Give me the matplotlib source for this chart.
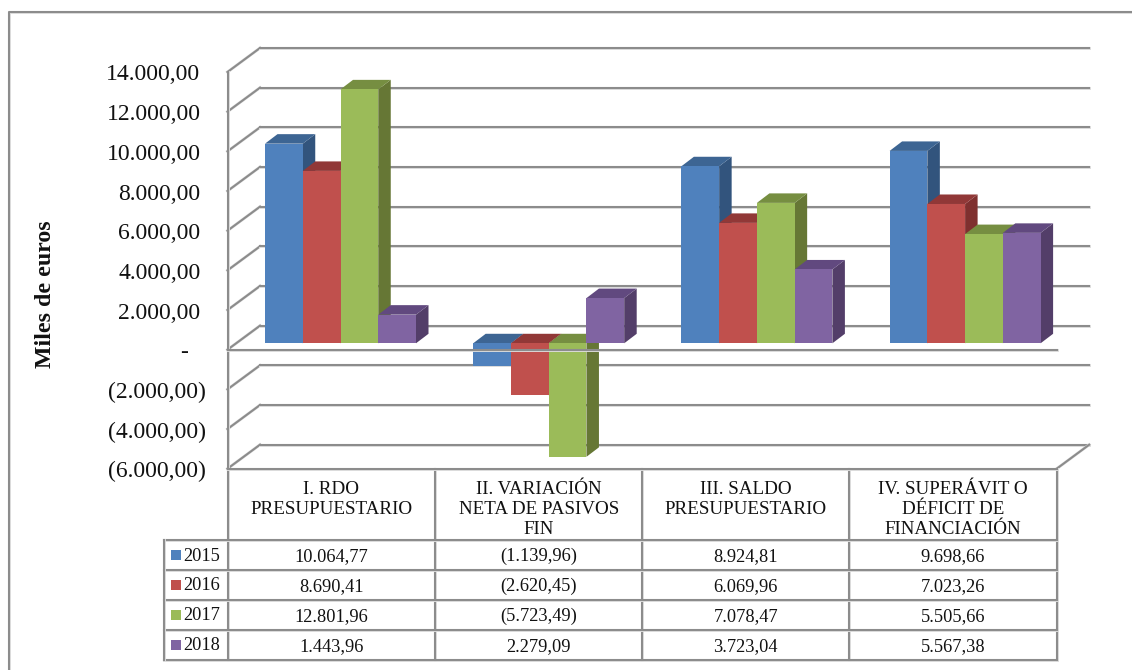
"""Gráfico de barras 3D simulado con tabla de datos: resultado presupuestario 2015-2018."""

import matplotlib

matplotlib.use("Agg")
import matplotlib.patheffects as path_effects
import matplotlib.pyplot as plt
from matplotlib.patches import Rectangle

plt.rcParams["font.family"] = ["Liberation Serif", "DejaVu Serif"]

CATEGORIES = [
    "I. RDO\nPRESUPUESTARIO",
    "II. VARIACIÓN\nNETA DE PASIVOS\nFIN",
    "III. SALDO\nPRESUPUESTARIO",
    "IV. SUPERÁVIT O\nDÉFICIT DE\nFINANCIACIÓN",
]
YEARS = ["2015", "2016", "2017", "2018"]
VALUES_2015 = [10064.77, -1139.96, 8924.81, 9698.66]
VALUES_2016 = [8690.41, -2620.45, 6069.96, 7023.26]
VALUES_2017 = [12801.96, -5723.49, 7078.47, 5505.66]
VALUES_2018 = [1443.96, 2279.09, 3723.04, 5567.38]
SERIES = [VALUES_2015, VALUES_2016, VALUES_2017, VALUES_2018]
Y_TICKS = [14000, 12000, 10000, 8000, 6000, 4000, 2000, 0, -2000, -4000, -6000]

FRONT_COLORS = ["#4F81BD", "#C0504D", "#9BBB59", "#8064A2"]
TOP_COLORS = ["#3D6593", "#913837", "#768E41", "#61497F"]
SIDE_COLORS = ["#32547D", "#7F302F", "#667735", "#533E69"]
GRID_COLOR = "#8C8C8C"
TEXT_COLOR = "#111111"

# Geometría en píxeles de la imagen
WIDTH, HEIGHT = 1132, 670
PLOT_LEFT, PLOT_RIGHT = 227.5, 1056.7
PLOT_TOP, PLOT_BOTTOM = 72.0, 468.7
TABLE_X = [227.5, 435.3, 642.3, 849.2, 1056.7]
TABLE_Y = [468.7, 540.3, 570.0, 600.0, 630.0, 660.0]
LW = 1.5
HALO = [path_effects.withStroke(linewidth=2.1, foreground="#DEDEDE")]

PX_X = 4 / (PLOT_RIGHT - PLOT_LEFT)
PX_Y = 20000 / (PLOT_BOTTOM - PLOT_TOP)
WALL_DX, WALL_DY = 32.5 * PX_X, 24.0 * PX_Y
BAR_DX, BAR_DY = 12.5 * PX_X, 9.5 * PX_Y
BAR_LIFT = 6.4 * PX_Y
BAR_WIDTH = 37.75 * PX_X
GROUP_START = 37.5 * PX_X
GROUP_STEP = 208.2 * PX_X


def format_number(value: float) -> str:
    """Formato contable español: punto de miles, coma decimal, negativos entre paréntesis."""
    text = f"{abs(value):,.2f}".replace(",", "#").replace(".", ",").replace("#", ".")
    return f"({text})" if value < 0 else text


def draw_walls(ax) -> None:
    n_cat = len(CATEGORIES)
    style = {"color": GRID_COLOR, "lw": LW, "zorder": 1, "clip_on": False, "path_effects": HALO}
    for tick in Y_TICKS:
        ax.plot([0, WALL_DX], [tick, tick + WALL_DY], **style)
        ax.plot([WALL_DX, n_cat + WALL_DX], [tick + WALL_DY] * 2, **style)
    ax.plot([0, 0], [Y_TICKS[-1], Y_TICKS[0]], **style)
    ax.plot([n_cat, n_cat + WALL_DX], [Y_TICKS[-1], Y_TICKS[-1] + WALL_DY], **style)


def draw_bars(ax) -> None:
    for cat_index in range(len(CATEGORIES)):
        for series_index, values in enumerate(SERIES):
            value = values[cat_index]
            x0 = GROUP_START + cat_index * GROUP_STEP + series_index * BAR_WIDTH
            x1 = x0 + BAR_WIDTH
            y0 = BAR_LIFT
            y1 = BAR_LIFT + value
            y_top, y_low = max(y0, y1), min(y0, y1)
            z = 3 + cat_index * 10 + series_index
            ax.fill(
                [x1, x1 + BAR_DX, x1 + BAR_DX, x1],
                [y_low, y_low + BAR_DY, y_top + BAR_DY, y_top],
                color=SIDE_COLORS[series_index], lw=0, zorder=z, clip_on=False,
            )
            ax.fill(
                [x0, x0 + BAR_DX, x1 + BAR_DX, x1],
                [y_top, y_top + BAR_DY, y_top + BAR_DY, y_top],
                color=TOP_COLORS[series_index], lw=0, zorder=z, clip_on=False,
            )
            ax.bar(x0, value, width=BAR_WIDTH, bottom=y0, align="edge", color=FRONT_COLORS[series_index], lw=0, zorder=z, clip_on=False)
    # La línea del cero queda por delante de las barras
    ax.plot([0, len(CATEGORIES)], [0, 0], color=GRID_COLOR, lw=LW, zorder=100, clip_on=False, path_effects=HALO)


def draw_tick_labels(ax) -> None:
    for tick in Y_TICKS:
        if tick == 0:
            label, right = "-", -39.5
        elif tick < 0:
            label, right = format_number(tick), -21.5
        else:
            label, right = format_number(tick), -27.0
        ax.text(right * PX_X, tick - 3.0 * PX_Y, label, ha="right", va="center", fontsize=17, color=TEXT_COLOR, clip_on=False)


def draw_table(overlay) -> None:
    for x in TABLE_X:
        overlay.plot([x, x], [TABLE_Y[0], TABLE_Y[-1]], color=GRID_COLOR, lw=LW, path_effects=HALO)
    overlay.plot([TABLE_X[0], TABLE_X[-1]], [TABLE_Y[0], TABLE_Y[0]], color=GRID_COLOR, lw=LW, path_effects=HALO)
    legend_left = 164.0
    for row_y in TABLE_Y[1:]:
        overlay.plot([legend_left, TABLE_X[-1]], [row_y, row_y], color=GRID_COLOR, lw=LW, path_effects=HALO)
    overlay.plot([legend_left, legend_left], [TABLE_Y[1], TABLE_Y[-1]], color=GRID_COLOR, lw=LW, path_effects=HALO)

    for cat_index, name in enumerate(CATEGORIES):
        center = (TABLE_X[cat_index] + TABLE_X[cat_index + 1]) / 2
        overlay.text(center, 480.5, name, ha="center", va="top", fontsize=13.7, color=TEXT_COLOR, linespacing=1.25)
        for row_index, values in enumerate(SERIES):
            overlay.text(center, TABLE_Y[row_index + 1] + 16.5, format_number(values[cat_index]), ha="center", va="center", fontsize=13.2, color=TEXT_COLOR)

    for row_index, year in enumerate(YEARS):
        mid_y = TABLE_Y[row_index + 1] + 15
        overlay.add_patch(Rectangle((170.5, mid_y - 5), 10, 9.5, color=FRONT_COLORS[row_index], lw=0))
        overlay.text(183, mid_y + 1, year, ha="left", va="center", fontsize=13.2, color=TEXT_COLOR)


def main() -> None:
    fig = plt.figure(figsize=(WIDTH / 100, HEIGHT / 100), dpi=100, facecolor="white")
    ax = fig.add_axes([
        PLOT_LEFT / WIDTH,
        1 - PLOT_BOTTOM / HEIGHT,
        (PLOT_RIGHT - PLOT_LEFT) / WIDTH,
        (PLOT_BOTTOM - PLOT_TOP) / HEIGHT,
    ])
    ax.set_xlim(0, len(CATEGORIES))
    ax.set_ylim(Y_TICKS[-1], Y_TICKS[0])
    ax.axis("off")

    draw_walls(ax)
    draw_bars(ax)
    draw_tick_labels(ax)

    overlay = fig.add_axes([0, 0, 1, 1], zorder=5)
    overlay.set_xlim(0, WIDTH)
    overlay.set_ylim(HEIGHT, 0)
    overlay.axis("off")
    overlay.patch.set_alpha(0)

    # Marco exterior del gráfico
    overlay.plot([8.5, 8.5, WIDTH], [HEIGHT, 11.5, 11.5], color=GRID_COLOR, lw=LW, path_effects=HALO)
    draw_table(overlay)
    overlay.text(46, 294, "Miles de euros", rotation=90, ha="center", va="center", fontsize=17.2, fontweight="bold", color=TEXT_COLOR)

    fig.savefig("out.png", dpi=100)
    plt.close(fig)


if __name__ == "__main__":
    main()
